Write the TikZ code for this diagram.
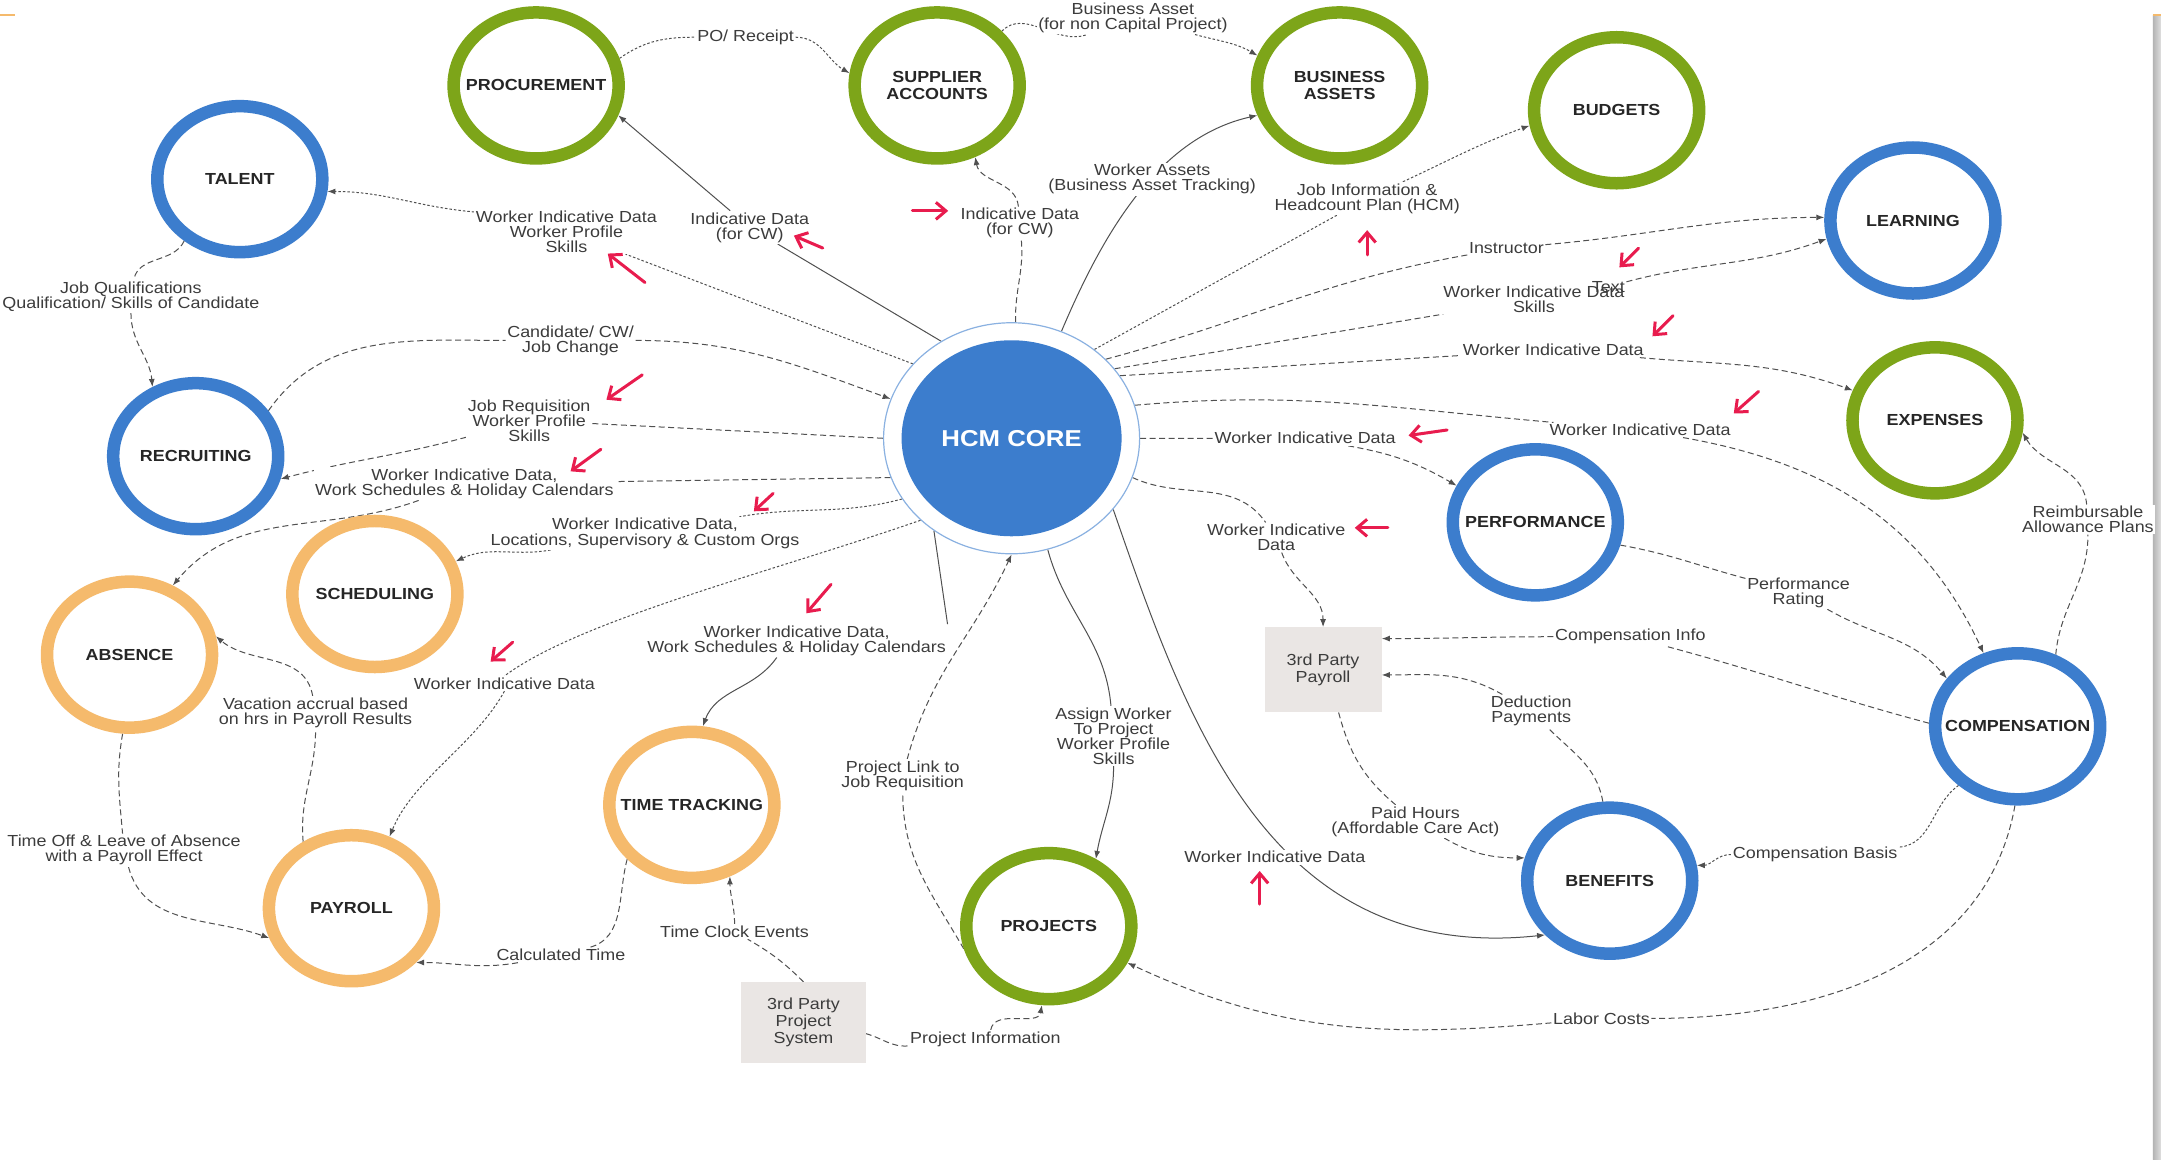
\documentclass[tikz,border=0pt]{standalone}
\usepackage{fontspec}
\setmainfont{Liberation Sans}
\newfontfamily\lf[FakeStretch=1.12]{Liberation Sans}
\usetikzlibrary{shapes.geometric,arrows.meta}
\pgfdeclarelayer{back}
\pgfdeclarelayer{bg}
\pgfsetlayers{back,bg,main}
\definecolor{cblue}{RGB}{60,125,205}
\definecolor{cgreen}{RGB}{125,165,25}
\definecolor{corange}{RGB}{245,186,108}
\definecolor{cline}{RGB}{80,80,80}
\definecolor{ctext}{RGB}{60,60,60}
\definecolor{cred}{RGB}{232,28,78}
\definecolor{cbox}{RGB}{234,230,228}
\begin{document}
\begin{tikzpicture}[x=1.378pt,y=1.378pt,
  ring/.style={ellipse, minimum width=165pt, minimum height=146pt, line width=12.5pt, outer sep=6.25pt, inner sep=0pt},
  rt/.style={font=\lf\fontsize{16}{17}\selectfont\bfseries, text=black!85, align=center, inner sep=0pt},
  bring/.style={ring, draw=cblue},
  gring/.style={ring, draw=cgreen},
  oring/.style={ring, draw=corange},
  lbl/.style={font=\lf\fontsize{16}{15}\selectfont, text=ctext, fill=white, inner sep=1.5pt, align=center},
  tbox/.style={fill=cbox, minimum width=117pt, minimum height=85pt, inner sep=2pt, font=\lf\fontsize{16}{17}\selectfont, text=ctext, align=center},
  con/.style={draw=cline, line width=1pt, dash pattern=on 6pt off 3.5pt, -{Latex[length=8pt,width=6pt]}},
  cond/.style={con, dash pattern=on 2.5pt off 2pt},
  cons/.style={con, solid},
  ann/.style={draw=cred, line width=3pt, line cap=round, -{Straight Barb[length=10pt,width=17pt]}}
]
\useasboundingbox (0,0) rectangle (1568,-841);
\begin{pgfonlayer}{back}
\fill[white] (0,0) rectangle (1568,-841);
\shade[left color=gray!60, right color=gray!25] (1562,-11) rectangle (1568,-841);
\draw[corange, line width=1.5pt] (0,-11) -- (11,-11);
\draw[corange, line width=1.5pt] (1562,-11) -- (1568,-11);
\end{pgfonlayer}

% rings
\node[gring, label={[rt]center:PROCUREMENT}] (proc) at (389,-62) {};
\node[gring, label={[rt]center:SUPPLIER\\ACCOUNTS}] (sup) at (680,-62) {};
\node[gring, label={[rt]center:BUSINESS\\ASSETS}] (bas) at (972,-62) {};
\node[gring, label={[rt]center:BUDGETS}] (bud) at (1173,-80) {};
\node[bring, label={[rt]center:TALENT}] (tal) at (174,-130) {};
\node[bring, label={[rt]center:LEARNING}] (lea) at (1388,-160) {};
\node[bring, label={[rt]center:RECRUITING}] (rec) at (142,-331) {};
\node[gring, label={[rt]center:EXPENSES}] (exp) at (1404,-305) {};
\node[bring, label={[rt]center:PERFORMANCE}] (perf) at (1114,-379) {};
\node[oring, label={[rt]center:SCHEDULING}] (sch) at (272,-431) {};
\node[oring, label={[rt]center:ABSENCE}] (abs) at (94,-475) {};
\node[bring, label={[rt]center:COMPENSATION}] (comp) at (1464,-527) {};
\node[oring, label={[rt]center:TIME TRACKING}] (tt) at (502,-584) {};
\node[oring, label={[rt]center:PAYROLL}] (pay) at (255,-659) {};
\node[bring, label={[rt]center:BENEFITS}] (ben) at (1168,-639) {};
\node[gring, label={[rt]center:PROJECTS}] (proj) at (761,-672) {};
\node[tbox] (tpp) at (960,-486) {3rd Party\\Payroll};
\node[tbox, minimum width=124pt, minimum height=81pt] (tps) at (583,-742) {3rd Party\\Project\\System};
\node[ellipse, draw=cblue!60, line width=1.2pt, minimum width=256pt, minimum height=231pt] (hcm) at (734,-318) {};
\node[ellipse, fill=cblue, minimum width=220pt, minimum height=196pt, inner sep=0pt, text=white, font=\lf\fontsize{23}{25}\selectfont\bfseries] (core) at (734,-318) {HCM CORE};

% labels
\node[lbl] (lPO) at (541,-27) {PO/ Receipt};
\node[lbl] (lBA) at (822,-13) {Business Asset\\(for non Capital Project)};
\node[lbl] (lIP) at (544,-165) {Indicative Data\\(for CW)};
\node[lbl] (lIS) at (740,-162) {Indicative Data\\(for CW)};
\node[lbl] (lWA) at (836,-130) {Worker Assets\\(Business Asset Tracking)};
\node[lbl] (lJI) at (992,-144) {Job Information \&\\Headcount Plan (HCM)};
\node[lbl] (lIn) at (1093,-180) {Instructor};
\node[lbl] (lWS) at (1113,-217) {Worker Indicative Data\\Skills};
\node[lbl, fill=none] (lTx) at (1167,-208) {Text};
\node[lbl] (lWE) at (1127,-254) {Worker Indicative Data};
\node[lbl] (lWC) at (1190,-312) {Worker Indicative Data};
\node[lbl] (lWP) at (947,-318) {Worker Indicative Data};
\node[lbl] (lW3) at (926,-390) {Worker Indicative\\Data};
\node[lbl] (lPR) at (1305,-430) {Performance\\Rating};
\node[lbl] (lCI) at (1183,-462) {Compensation Info};
\node[lbl] (lDP) at (1111,-516) {Deduction\\Payments};
\node[lbl] (lPH) at (1027,-596) {Paid Hours\\(Affordable Care Act)};
\node[lbl] (lCB) at (1317,-620) {Compensation Basis};
\node[lbl] (lLC) at (1162,-739) {Labor Costs};
\node[lbl] (lRA) at (1515,-377) {Reimbursable\\Allowance Plans};
\node[lbl] (lWB) at (925,-622) {Worker Indicative Data};
\node[lbl] (lAW) at (808,-534) {Assign Worker\\To Project\\Worker Profile\\Skills};
\node[lbl] (lPL) at (655,-563) {Project Link to\\Job Requisition};
\node[lbl] (lPI) at (715,-754) {Project Information};
\node[lbl] (lTC) at (533,-676) {Time Clock Events};
\node[lbl] (lCT) at (407,-693) {Calculated Time};
\node[lbl] (lTT) at (578,-465) {Worker Indicative Data,\\Work Schedules \& Holiday Calendars};
\node[lbl] (lWPay) at (366,-496) {Worker Indicative Data};
\node[lbl] (lSC) at (468,-387) {Worker Indicative Data,\\Locations, Supervisory \& Custom Orgs};
\node[lbl] (lAB) at (337,-351) {Worker Indicative Data,\\Work Schedules \& Holiday Calendars};
\node[lbl] (lJR) at (384,-305) {Job Requisition\\Worker Profile\\Skills};
\node[lbl] (lCC) at (414,-247) {Candidate/ CW/\\Job Change};
\node[lbl] (lTa) at (411,-168) {Worker Indicative Data\\Worker Profile\\Skills};
\node[lbl] (lJQ) at (95,-215) {Job Qualifications\\Qualification/ Skills of Candidate};
\node[lbl] (lTO) at (90,-617) {Time Off \& Leave of Absence\\with a Payroll Effect};
\node[lbl] (lVA) at (229,-517) {Vacation accrual based\\on hrs in Payroll Results};

\begin{pgfonlayer}{bg}
\draw[cond] (proc.18) to[out=35,in=180] (lPO) to[out=0,in=150] (sup.172);
\draw[cond] (sup.40) to[out=45,in=200] (lBA) to[out=-15,in=150] (bas.160);
\draw[cons] (hcm.126) -- (lIP) -- (proc.-20);
\draw[con] (hcm.88) to[out=92,in=-85] (lIS) to[out=95,in=-80] (sup.-62);
\draw[cons] (hcm.65) .. controls (800,-170) and (840,-100) .. (bas.200);
\draw[cond] (hcm.47) -- (lJI) to[out=25,in=200] (bud.190);
\draw[con] (hcm.40) to[out=15,in=190] (lIn) to[out=5,in=180] (lea.178);
\draw[con] (hcm.34) -- (lWS) (lTx) to[out=15,in=200] (lea.192);
\draw[con] (hcm.30) -- (lWE) to[out=-5,in=160] (exp.160);
\draw[con] (hcm.15) to[out=5,in=175] (lWC) to[out=-10,in=115] (comp.115);
\draw[con] (hcm.0) -- (lWP) to[out=-10,in=150] (perf.155);
\draw[con] (hcm.-18) to[out=-25,in=125] (lW3) to[out=-70,in=90] (tpp.north);
\draw[con] (perf.-15) to[out=-10,in=165] (lPR) to[out=-30,in=130] (comp.146);
\draw[con] (comp.178) to[out=165,in=-15] (lCI) to[out=180,in=0] (tpp.28);
\draw[con] (ben.95) to[out=100,in=-45] (lDP) to[out=150,in=0] (tpp.-5);
\draw[con] (tpp.-70) to[out=-75,in=140] (lPH) to[out=-30,in=180] (ben.165);
\draw[cond] (comp.-135) to[out=-145,in=5] (lCB) to[out=180,in=0] (ben.10);
\draw[con] (comp.-92) to[out=-100,in=0] (lLC) to[out=185,in=-25] (proj.-25);
\draw[con] (comp.62) to[out=85,in=-90] (lRA) to[out=95,in=-60] (exp.-8);
\draw[cons] (hcm.-35) .. controls (860,-520) and (920,-700) .. (ben.-140);
\draw[cons] (hcm.-72) to[out=-75,in=95] (lAW) to[out=-90,in=80] (proj.55);
\draw[con] (proj.-165) to[out=120,in=-90] (lPL) to[out=75,in=-115] (hcm.-90);
\draw[con] (tps.-10) to[out=-15,in=185] (lPI) (lPI.60) to[out=80,in=-100] (proj.-95);
\draw[con] (tps.north) to[out=135,in=-30] (lTC) to[out=90,in=-90] (tt.-62);
\draw[con] (tt.-140) to[out=-105,in=15] (lCT) to[out=190,in=0] (pay.-40);
\draw[cons] (hcm.-130) -- (lTT.north east) (lTT.-140) to[out=-125,in=70] (tt.82);
\draw[cond] (hcm.-138) .. controls (560,-415) and (420,-450) .. (lWPay.north) (lWPay.south) .. controls (345,-540) and (300,-565) .. (pay.62);
\draw[cond] (hcm.-151) to[out=-165,in=10] (lSC) to[out=190,in=25] (sch.22);
\draw[con] (hcm.-162) -- (lAB) to[out=200,in=50] (abs.58);
\draw[con] (hcm.180) -- (lJR) to[out=195,in=15] (rec.-15);
\draw[con] (rec.32) to[out=55,in=180] (lCC) to[out=0,in=160] (hcm.162);
\draw[cond] (hcm.143) -- (lTa) (lTa.168) to[out=175,in=0] (tal.-8);
\draw[con] (tal.-132) to[out=-115,in=80] (lJQ) to[out=-90,in=95] (rec.122);
\draw[con] (abs.-95) to[out=-100,in=95] (lTO) to[out=-75,in=160] (pay.-160);
\draw[con] (pay.126) to[out=95,in=-90] (lVA) to[out=100,in=-40] (abs.12);
\end{pgfonlayer}

% red annotation arrows
\draw[ann] (468,-205) -- (441,-184);
\draw[ann] (597,-180) -- (576,-171);
\draw[ann] (662,-153) -- (688,-153);
\draw[ann] (992,-185) -- (992,-167);
\draw[ann] (1189,-180) -- (1175,-194);
\draw[ann] (1214,-229) -- (1199,-244);
\draw[ann] (1276,-284) -- (1258,-300);
\draw[ann] (1050,-312) -- (1022,-316);
\draw[ann] (1007,-383) -- (983,-383);
\draw[ann] (914,-656) -- (914,-632);
\draw[ann] (466,-272) -- (440,-290);
\draw[ann] (436,-326) -- (414,-342);
\draw[ann] (561,-358) -- (547,-371);
\draw[ann] (603,-424) -- (585,-445);
\draw[ann] (372,-466) -- (356,-480);
\end{tikzpicture}
\end{document}
